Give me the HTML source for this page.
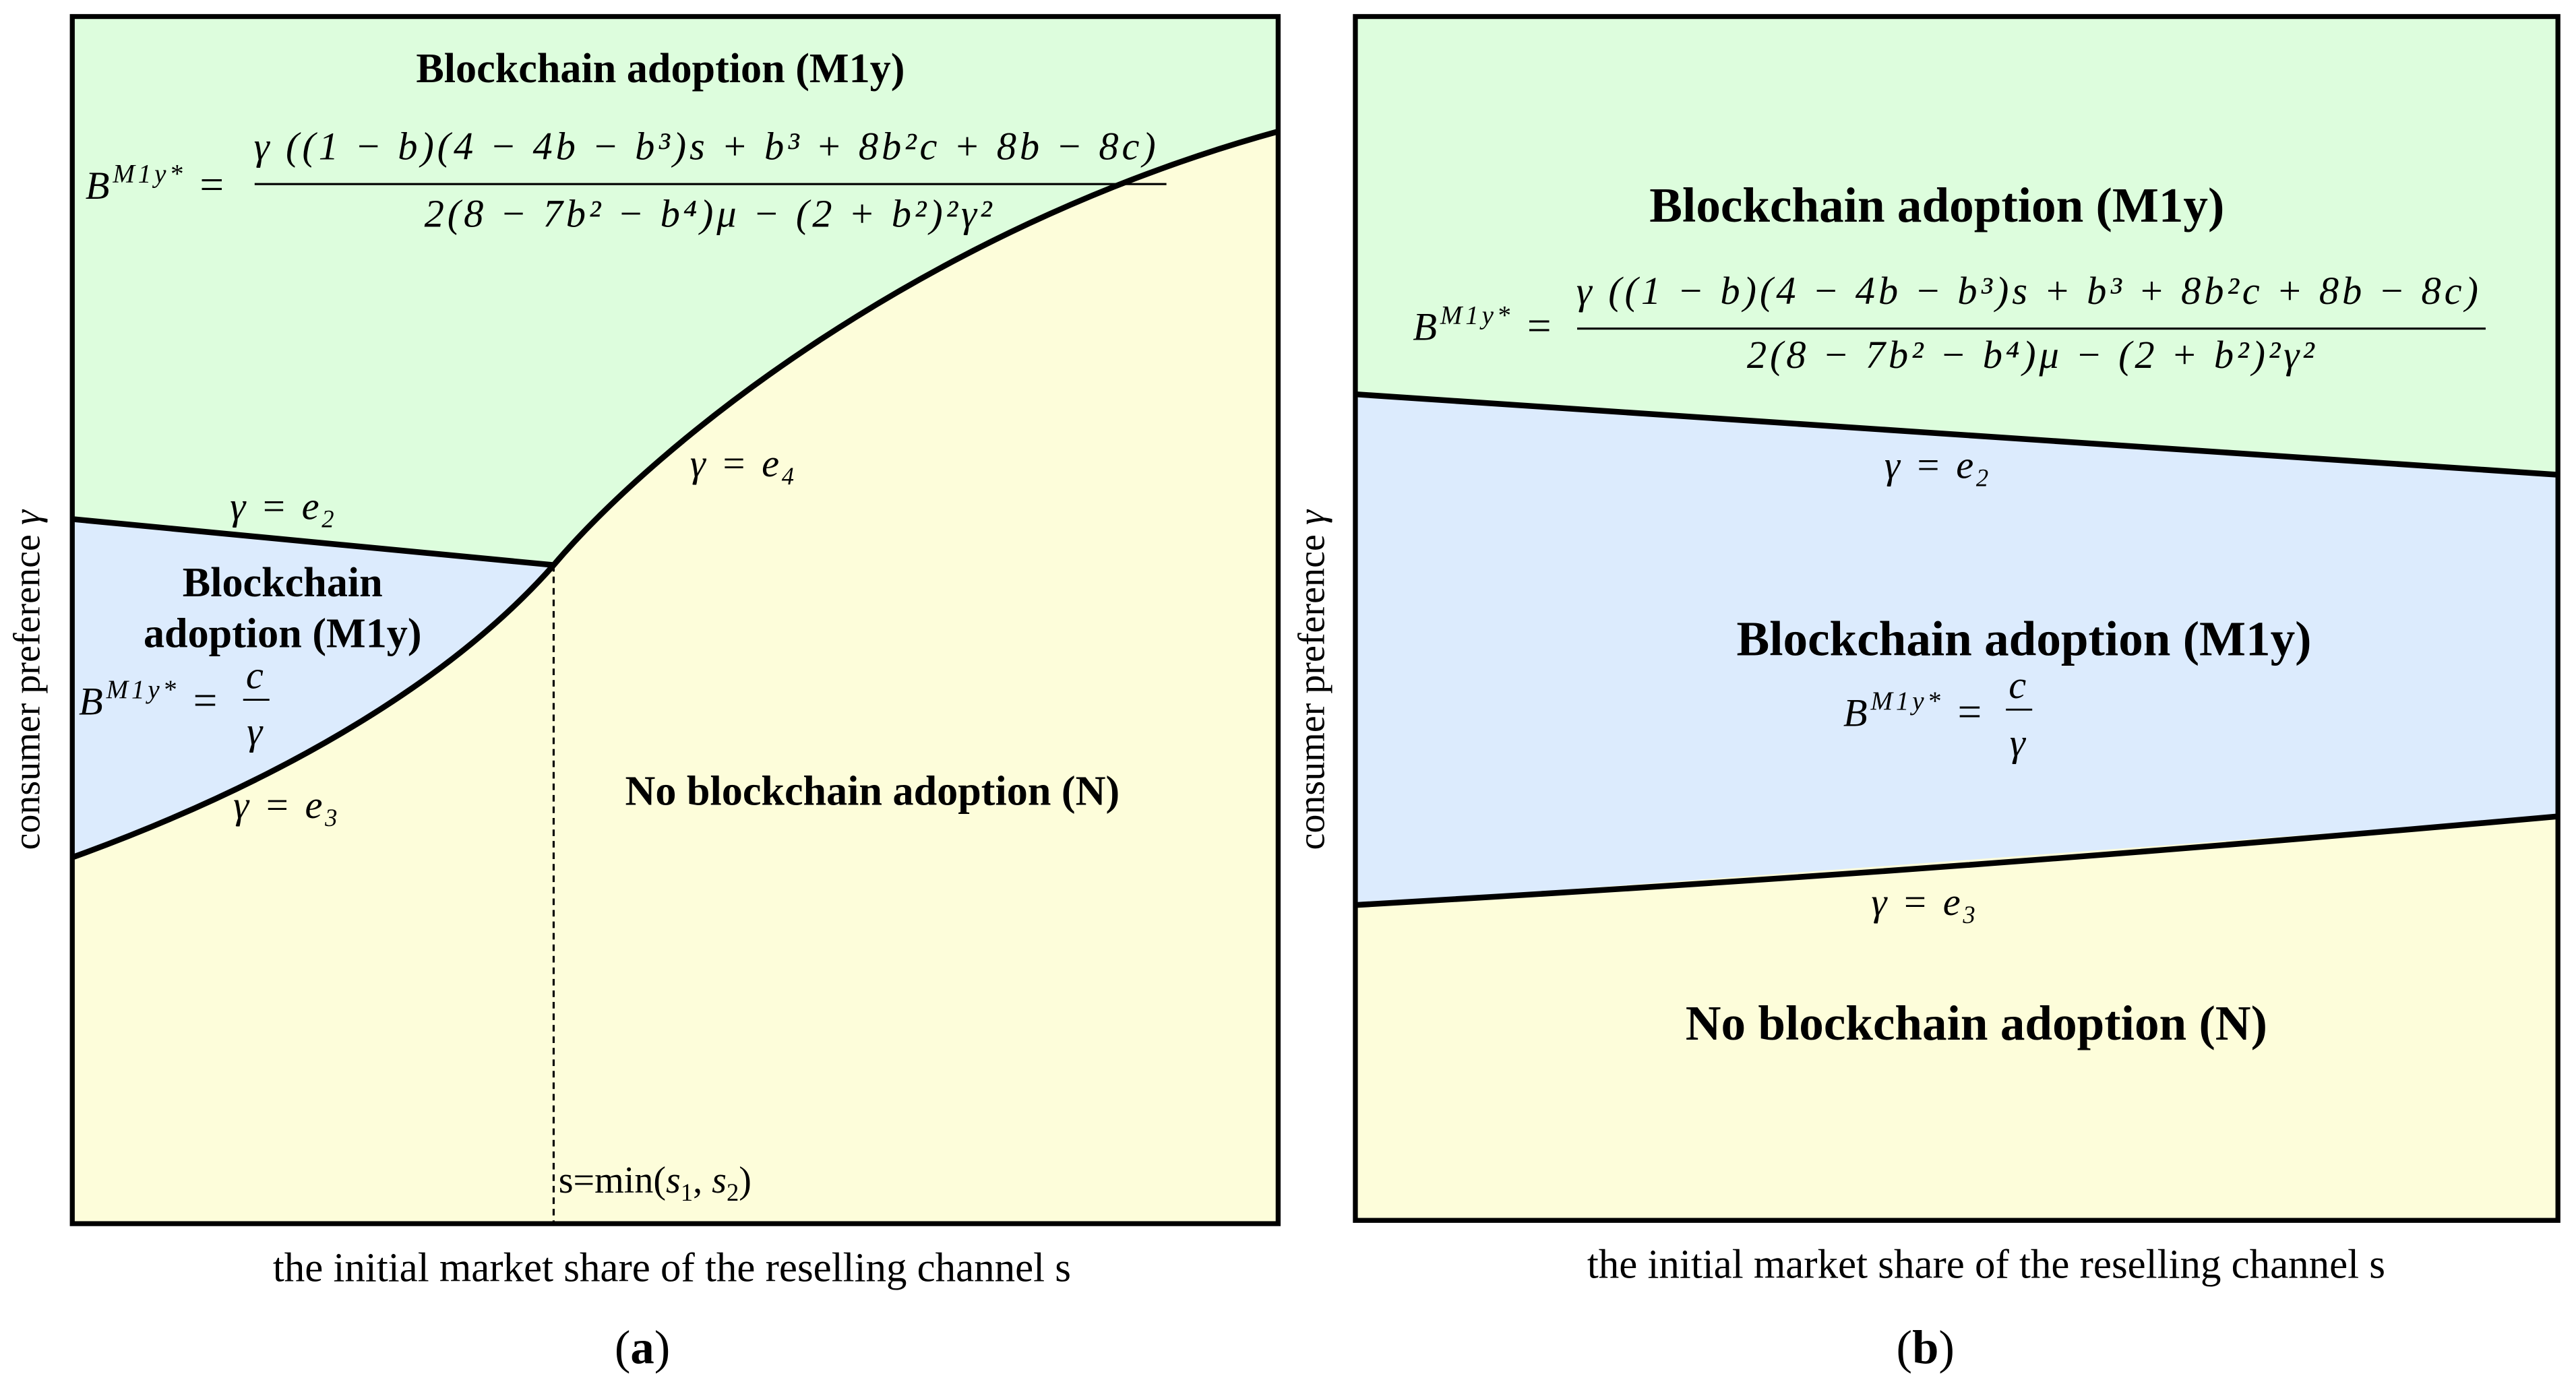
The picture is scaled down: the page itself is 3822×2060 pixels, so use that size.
<!DOCTYPE html>
<html><head><meta charset="utf-8"><style>
html,body{margin:0;padding:0;background:#fff;}
svg{display:block;}
text{font-family:"Liberation Serif",serif;fill:#000;}
.b{font-weight:bold;font-size:25.5px;}
.bb{font-weight:bold;font-size:30px;}
.m{font-style:italic;font-size:24px;letter-spacing:2px;}
.g{font-style:italic;font-size:24px;letter-spacing:1.5px;}
.s{font-size:24px;}
</style></head><body>
<svg width="3822" height="2060" viewBox="0 0 1568 845" xmlns="http://www.w3.org/2000/svg">
<!-- Panel a -->
<rect x="44" y="10" width="734" height="735" fill="#fdfdda"/>
<path d="M44,10 H778 V80 C560,140 400,270 337,344 L44,316 Z" fill="#ddfddd"/>
<path d="M44,316 L337,344 C270,420 160,480 44,522 Z" fill="#dcebfd"/>
<path d="M44,522 C160,480 270,420 337,344 C400,270 560,140 778,80" fill="none" stroke="#000" stroke-width="3.5"/>
<line x1="44" y1="316" x2="337" y2="344" stroke="#000" stroke-width="3.5"/>
<line x1="337" y1="344" x2="337" y2="745" stroke="#000" stroke-width="1.3" stroke-dasharray="4,3"/>
<rect x="44" y="10" width="734" height="735" fill="none" stroke="#000" stroke-width="3"/>
<text class="b" x="402" y="50" text-anchor="middle">Blockchain adoption (M1y)</text>
<text class="m" x="52" y="121">B<tspan font-size="16" dy="-10">M1y*</tspan><tspan dy="10" font-style="normal" font-size="26"> = </tspan></text>
<text class="m" x="430" y="97" text-anchor="middle">γ ((1 − b)(4 − 4b − b³)s + b³ + 8b²c + 8b − 8c)</text>
<line x1="155" y1="112" x2="710" y2="112" stroke="#000" stroke-width="1.3"/>
<text class="m" x="432" y="138" text-anchor="middle">2(8 − 7b² − b⁴)μ − (2 + b²)²γ²</text>
<text class="g" x="140" y="316">γ = e<tspan font-size="15" dy="5">2</tspan></text>
<text class="b" x="172" y="363" text-anchor="middle">Blockchain</text>
<text class="b" x="172" y="394" text-anchor="middle">adoption (M1y)</text>
<text class="m" x="48" y="435">B<tspan font-size="16" dy="-10">M1y*</tspan><tspan dy="10" font-style="normal" font-size="26"> =</tspan></text>
<text class="m" x="156" y="419" text-anchor="middle">c</text>
<line x1="148" y1="426" x2="164" y2="426" stroke="#000" stroke-width="1.2"/>
<text class="m" x="156" y="453" text-anchor="middle">γ</text>
<text class="g" x="142" y="498">γ = e<tspan font-size="15" dy="5">3</tspan></text>
<text class="g" x="420" y="290">γ = e<tspan font-size="15" dy="5">4</tspan></text>
<text class="b" x="531" y="490" text-anchor="middle">No blockchain adoption (N)</text>
<text x="340" y="726" font-size="23">s=min(<tspan font-style="italic">s</tspan><tspan font-size="15" dy="5">1</tspan><tspan dy="-5">, </tspan><tspan font-style="italic">s</tspan><tspan font-size="15" dy="5">2</tspan><tspan dy="-5">)</tspan></text>
<text transform="translate(24,414) rotate(-90)" text-anchor="middle" font-size="23">consumer preference <tspan font-style="italic">γ</tspan></text>
<text x="409" y="780" text-anchor="middle" font-size="25">the initial market share of the reselling channel s</text>
<text x="391" y="830" text-anchor="middle" font-size="29">(<tspan font-weight="bold">a</tspan>)</text>

<!-- Panel b -->
<rect x="825" y="10" width="732" height="733" fill="#fdfdda"/>
<path d="M825,10 H1557 V289 L825,240 Z" fill="#ddfddd"/>
<path d="M825,240 L1557,289 V497 L825,551 Z" fill="#dcebfd"/>
<line x1="825" y1="240" x2="1557" y2="289" stroke="#000" stroke-width="3.5"/>
<path d="M825,551 C1100,535 1300,520 1557,497" fill="none" stroke="#000" stroke-width="3.5"/>
<rect x="825" y="10" width="732" height="733" fill="none" stroke="#000" stroke-width="3"/>
<text class="bb" x="1179" y="135" text-anchor="middle">Blockchain adoption (M1y)</text>
<text class="m" x="860" y="207">B<tspan font-size="16" dy="-10">M1y*</tspan><tspan dy="10" font-style="normal" font-size="26"> =</tspan></text>
<text class="m" x="1235" y="185" text-anchor="middle">γ ((1 − b)(4 − 4b − b³)s + b³ + 8b²c + 8b − 8c)</text>
<line x1="960" y1="200" x2="1513" y2="200" stroke="#000" stroke-width="1.3"/>
<text class="m" x="1237" y="224" text-anchor="middle">2(8 − 7b² − b⁴)μ − (2 + b²)²γ²</text>
<text class="g" x="1147" y="291">γ = e<tspan font-size="15" dy="5">2</tspan></text>
<text class="bb" x="1232" y="399" text-anchor="middle">Blockchain adoption (M1y)</text>
<text class="m" x="1122" y="442">B<tspan font-size="16" dy="-10">M1y*</tspan><tspan dy="10" font-style="normal" font-size="26"> =</tspan></text>
<text class="m" x="1229" y="425" text-anchor="middle">c</text>
<line x1="1221" y1="432" x2="1237" y2="432" stroke="#000" stroke-width="1.2"/>
<text class="m" x="1229" y="460" text-anchor="middle">γ</text>
<text class="g" x="1139" y="557">γ = e<tspan font-size="15" dy="5">3</tspan></text>
<text class="bb" x="1203" y="633" text-anchor="middle">No blockchain adoption (N)</text>
<text transform="translate(806,414) rotate(-90)" text-anchor="middle" font-size="23">consumer preference <tspan font-style="italic">γ</tspan></text>
<text x="1209" y="778" text-anchor="middle" font-size="25">the initial market share of the reselling channel s</text>
<text x="1172" y="830" text-anchor="middle" font-size="29">(<tspan font-weight="bold">b</tspan>)</text>
</svg>
</body></html>
